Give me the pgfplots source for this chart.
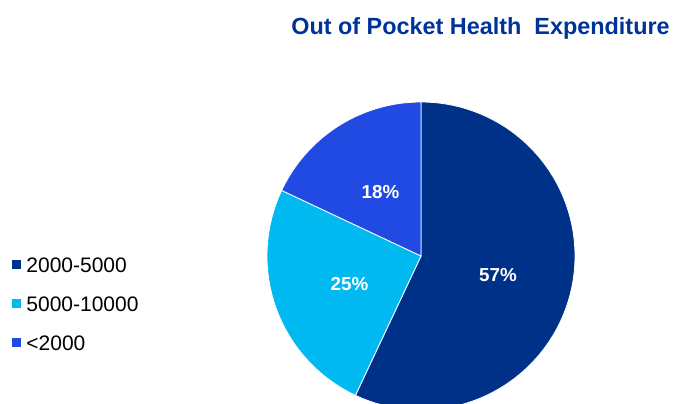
\documentclass[border=0pt]{standalone}
\usepackage{fontspec}
\setmainfont{Liberation Sans}
\usepackage{pgfplots}
\pgfplotsset{compat=1.18}
\definecolor{cDark}{RGB}{0,49,137}
\definecolor{cCyan}{RGB}{0,185,241}
\definecolor{cBlue}{RGB}{32,74,226}
\definecolor{cTitle}{RGB}{0,51,153}
% shares in percent (clockwise from 12 o'clock)
\def\vA{57}\def\vB{25}\def\vC{18}
\def\cx{421}\def\cy{148}\def\rad{154}
\begin{document}
\begin{tikzpicture}
\pgfmathsetmacro{\aA}{90}
\pgfmathsetmacro{\aB}{\aA-3.6*\vA}
\pgfmathsetmacro{\aC}{\aB-3.6*\vB}
\pgfmathsetmacro{\aD}{\aC-3.6*\vC}
\begin{axis}[
  hide axis, scale only axis,
  width=675pt, height=404pt,
  xmin=0, xmax=675, ymin=0, ymax=404,
  clip=true,
  legend image code/.code={\path[fill=none,draw=none] (0pt,-10pt) rectangle (9pt,10pt); \fill[#1,draw=none] (0pt,-3.7pt) rectangle (9pt,5.3pt);},
  legend style={
    at={(0.01733,0.3693)}, anchor=north west,
    draw=none, fill=none, inner sep=0pt, row sep=19pt,
    font=\fontsize{21}{21}\selectfont,
    nodes={inner sep=0pt, text height=15pt, text depth=0pt},
    cells={anchor=west},
    /tikz/every odd column/.style={column sep=5.5pt},
  },
]
\addplot[fill=cDark, draw=white, line width=0.8pt, domain=\aB:\aA, samples=150, variable=\t]
  ({\cx+\rad*cos(t)},{\cy+\rad*sin(t)}) -- (axis cs:\cx,\cy) -- cycle;
\addlegendentry{2000-5000}
\addplot[fill=cCyan, draw=white, line width=0.8pt, domain=\aC:\aB, samples=80, variable=\t]
  ({\cx+\rad*cos(t)},{\cy+\rad*sin(t)}) -- (axis cs:\cx,\cy) -- cycle;
\addlegendentry{5000-10000}
\addplot[fill=cBlue, draw=white, line width=0.8pt, domain=\aD:\aC, samples=60, variable=\t]
  ({\cx+\rad*cos(t)},{\cy+\rad*sin(t)}) -- (axis cs:\cx,\cy) -- cycle;
\addlegendentry{<2000}
\node[anchor=base, text=white, font=\bfseries\fontsize{18.8}{18.8}\selectfont, inner sep=0pt] at (axis cs:498,122.3) {\vA\%};
\node[anchor=base, text=white, font=\bfseries\fontsize{18.8}{18.8}\selectfont, inner sep=0pt] at (axis cs:349.5,113) {\vB\%};
\node[anchor=base, text=white, font=\bfseries\fontsize{18.8}{18.8}\selectfont, inner sep=0pt] at (axis cs:380.5,205.3) {\vC\%};
\node[anchor=base, text=cTitle, font=\bfseries\fontsize{23.4}{23.4}\selectfont, inner sep=0pt] at (axis cs:480.5,369.5) {Out of Pocket Health\ \ Expenditure};
\end{axis}
\pgfresetboundingbox
\path (current axis.south west) rectangle (current axis.north east);
\end{tikzpicture}
\end{document}
